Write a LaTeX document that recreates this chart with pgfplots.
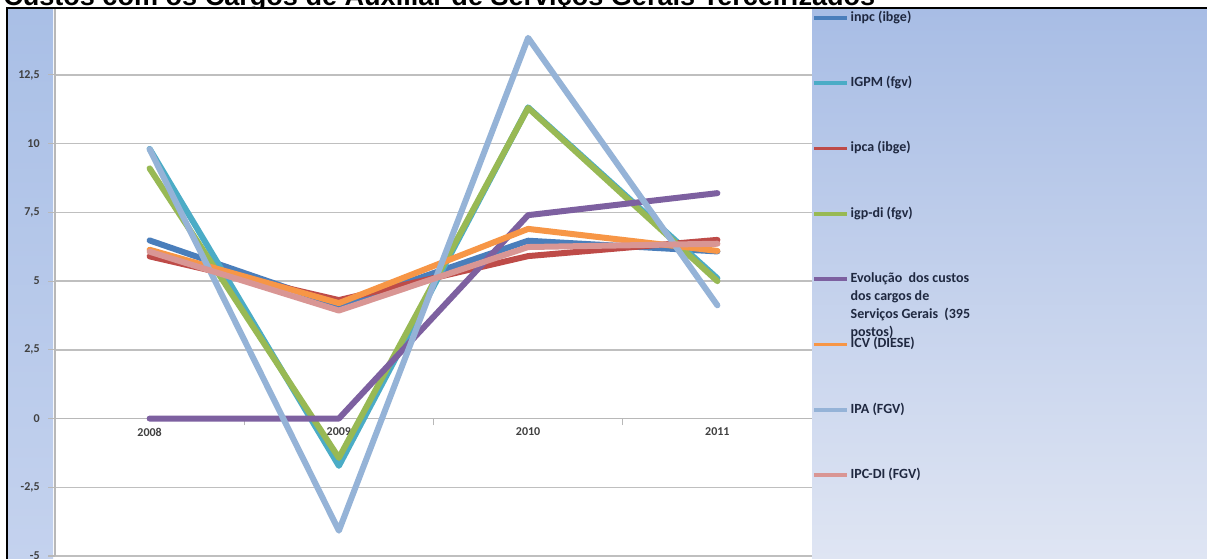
\documentclass[border=0pt]{standalone}
\usepackage{pgfplots}
\pgfplotsset{compat=1.18}
\usepackage{fontspec}
\setmainfont{Carlito}
\newfontfamily\titlefont{Liberation Sans}
\definecolor{cInpc}{HTML}{4A7EBB}
\definecolor{cIgpm}{HTML}{4BACC6}
\definecolor{cIpca}{HTML}{BE4B48}
\definecolor{cIgpdi}{HTML}{98B954}
\definecolor{cEvol}{HTML}{7D60A0}
\definecolor{cIcv}{HTML}{F79646}
\definecolor{cIpa}{HTML}{95B3D7}
\definecolor{cIpcdi}{HTML}{D99694}
\definecolor{stripTop}{HTML}{A9BFE6}
\definecolor{stripBot}{HTML}{C4D2EE}
\definecolor{legTop}{HTML}{A8BDE5}
\definecolor{legBot}{HTML}{DFE5F3}
\definecolor{tickgray}{HTML}{404040}
\definecolor{legtext}{HTML}{1F2840}
\begin{document}
\begin{tikzpicture}
\useasboundingbox (0,0) rectangle (905.25pt,419.25pt);
\fill[white] (0,0) rectangle (905.25pt,419.25pt);
% title (cut at the top like the reference)
\node[anchor=base west, inner sep=0pt, font=\titlefont\bfseries\fontsize{20.3}{24}\selectfont] at (2.25pt,414.75pt)
  {Custos com os Cargos de Auxiliar de Serviços Gerais Terceirizados};
% chart area backgrounds
\fill[white] (5.25pt,0) rectangle (905.25pt,412.5pt);
\shade[top color=stripTop, bottom color=stripBot] (6pt,0) rectangle (39.75pt,412pt);
\shade[top color=legTop, bottom color=legBot] (609pt,0) rectangle (905.25pt,412pt);
% frame
\draw[black, line width=1.6pt] (5.25pt,0) -- (5.25pt,413pt) -- (906pt,413pt);
\begin{axis}[
  at={(41.25pt,2.25pt)}, anchor=south west,
  scale only axis,
  width=567.75pt, height=410.25pt,
  xmin=-0.5, xmax=3.5,
  ymin=-5, ymax=14.9,
  axis x line*=middle,
  axis y line*=left,
  axis line style={draw=black!28, line width=1pt},
  xtick={0.5,1.5,2.5},
  xticklabels={},
  extra x ticks={0,1,2,3},
  extra x tick labels={2008,2009,2010,2011},
  extra x tick style={grid=none, major tick length=0pt,
     xticklabel style={font=\fontsize{9}{10}\selectfont\bfseries, text=tickgray, yshift=-3.5pt}},
  ytick={-5,-2.5,0,2.5,5,7.5,10,12.5},
  yticklabels={{-5},{-2,5},{0},{2,5},{5},{7,5},{10},{12,5}},
  yticklabel style={font=\fontsize{9}{10}\selectfont\bfseries, text=tickgray, xshift=-3pt},
  tick align=outside,
  major tick length=5pt,
  tick style={draw=black!28, line width=0.8pt},
  ymajorgrids,
  major grid style={draw=black!25, line width=1pt},
  legend cell align=left,
  legend image code/.code={\draw[#1, line width=2.8pt, line cap=butt] (0pt,0pt) -- (25pt,0pt);},
  legend style={at={(1,1)}, anchor=north west, yshift=-1pt, draw=none, fill=none,
     inner sep=0pt, row sep=38pt,
     font=\fontsize{10.5}{13.5}\selectfont\bfseries, text=legtext,
     nodes={inner sep=1pt, text height=7pt, text depth=2pt},
     /tikz/every even column/.append style={column sep=0pt}},
  every axis plot/.append style={line width=4.5pt, line join=round, line cap=round},
]
\addplot[color=cInpc] coordinates {(0,6.48) (1,4.11) (2,6.47) (3,6.08)};
\addlegendentry{inpc (ibge)}
\addplot[color=cIgpm] coordinates {(0,9.81) (1,-1.72) (2,11.32) (3,5.10)};
\addlegendentry{IGPM (fgv)}
\addplot[color=cIpca] coordinates {(0,5.90) (1,4.31) (2,5.91) (3,6.50)};
\addlegendentry{ipca (ibge)}
\addplot[color=cIgpdi] coordinates {(0,9.10) (1,-1.43) (2,11.30) (3,5.00)};
\addlegendentry{igp-di (fgv)}
\addplot[color=cEvol] coordinates {(0,0) (1,0) (2,7.40) (3,8.20)};
\addlegendentry{\smash{\parbox[t]{4cm}{\raggedright Evolução\ \ dos custos\\dos cargos de\\Serviços Gerais\ \ (395\\postos)}}}
\addplot[color=cIcv] coordinates {(0,6.14) (1,4.20) (2,6.90) (3,6.10)};
\addlegendentry{ICV (DIESE)}
\addplot[color=cIpa] coordinates {(0,9.80) (1,-4.08) (2,13.85) (3,4.12)};
\addlegendentry{IPA (FGV)}
\addplot[color=cIpcdi] coordinates {(0,6.07) (1,3.93) (2,6.24) (3,6.36)};
\addlegendentry{IPC-DI (FGV)}
\end{axis}
\end{tikzpicture}
\end{document}
